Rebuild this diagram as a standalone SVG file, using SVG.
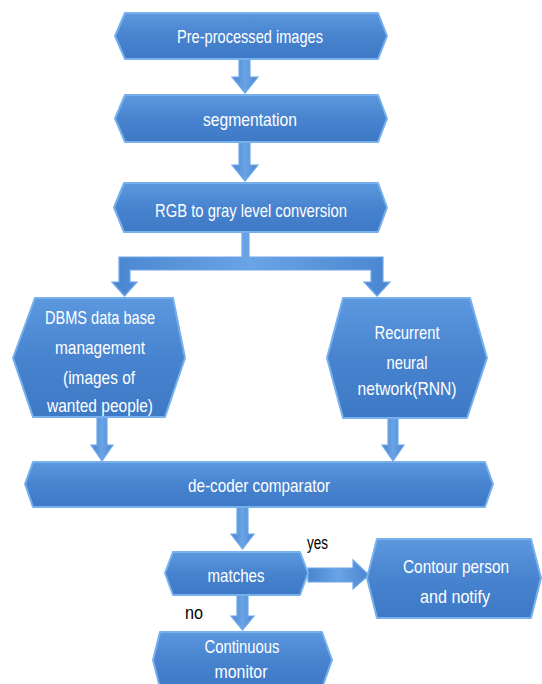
<svg xmlns="http://www.w3.org/2000/svg" width="542" height="684" viewBox="0 0 542 684">
<defs>
<linearGradient id="g" x1="0" y1="0" x2="0" y2="1">
<stop offset="0" stop-color="#5c98de"/>
<stop offset="0.5" stop-color="#4883cf"/>
<stop offset="1" stop-color="#3d79c5"/>
</linearGradient>
<linearGradient id="ga" x1="0" y1="0" x2="1" y2="0">
<stop offset="0" stop-color="#4a86d0"/>
<stop offset="0.5" stop-color="#6aa4e6"/>
<stop offset="1" stop-color="#4a86d0"/>
</linearGradient>
</defs>
<style>
.box{fill:url(#g);stroke:#78b0ee;stroke-width:2;stroke-linejoin:round}
.arr{fill:url(#ga);stroke:#6ea8ea;stroke-width:1.2;stroke-linejoin:miter}
.t{font-family:"Liberation Sans",Arial,sans-serif;font-size:19px;fill:#ffffff;text-anchor:middle}
.lbl{font-family:"Liberation Sans",Arial,sans-serif;font-size:18px;fill:#000000}
</style>
<rect width="542" height="684" fill="#ffffff"/>
<g id="connectors">
<path class="arr" d="M239,59 H250 V77 H258 L245,93 L232,77 H239 Z"/>
<path class="arr" d="M239,142 H250 V165 H258 L245,181 L232,165 H239 Z"/>
<path class="arr" d="M242,232 H249 V257 H383 V282 H390 L377,296 L364,282 H371 V270 H130 V282 H137 L124.5,296 L112,282 H119 V257 H242 Z"/>
<path class="arr" d="M97,417 H107 V445 H113 L102,461 L91,445 H97 Z"/>
<path class="arr" d="M388,418 H398 V445 H404 L393,461 L382,445 H388 Z"/>
<path class="arr" d="M237,507 H248 V534 H254 L242.5,549 L231,534 H237 Z"/>
<path class="arr" d="M308,568 H353 V560 L369,575 L353,589 V582 H308 Z"/>
<path class="arr" d="M237,595 H248 V616 H254 L242.5,630 L231,616 H237 Z"/>
</g>
<g id="n1">
<polygon class="box" points="115,36 125,13 378,13 387,36 378,59 125,59"/>
<text class="t" x="250" y="43" textLength="146" lengthAdjust="spacingAndGlyphs">Pre-processed images</text>
</g>
<g id="n2">
<polygon class="box" points="115,118.5 125,95 378,95 387,118.5 378,142 125,142"/>
<text class="t" x="250" y="126" textLength="94" lengthAdjust="spacingAndGlyphs">segmentation</text>
</g>
<g id="n3">
<polygon class="box" points="114,207.5 124,183 378,183 387,207.5 378,232 124,232"/>
<text class="t" x="251" y="217" textLength="192" lengthAdjust="spacingAndGlyphs">RGB to gray level conversion</text>
</g>
<g id="n4">
<polygon class="box" points="13,358 35,298 173,298 185,358 165,417 33,417"/>
<text class="t" x="100" y="324" textLength="110" lengthAdjust="spacingAndGlyphs">DBMS data base</text>
<text class="t" x="100" y="354" textLength="90" lengthAdjust="spacingAndGlyphs">management</text>
<text class="t" x="99" y="384" textLength="72" lengthAdjust="spacingAndGlyphs">(images of</text>
<text class="t" x="100" y="412" textLength="106" lengthAdjust="spacingAndGlyphs">wanted people)</text>
</g>
<g id="n5">
<polygon class="box" points="327,358 343,298 470,298 487,358 467,418 343,418"/>
<text class="t" x="407" y="339" textLength="65" lengthAdjust="spacingAndGlyphs">Recurrent</text>
<text class="t" x="407" y="369" textLength="41" lengthAdjust="spacingAndGlyphs">neural</text>
<text class="t" x="407" y="395" textLength="99" lengthAdjust="spacingAndGlyphs">network(RNN)</text>
</g>
<g id="n6">
<polygon class="box" points="25,484 33,462 485,462 493,484 485,507 33,507"/>
<text class="t" x="259" y="492" textLength="142" lengthAdjust="spacingAndGlyphs">de-coder comparator</text>
</g>
<g id="n7">
<polygon class="box" points="165,573 173,552 300,552 308,573 300,595 173,595"/>
<text class="t" x="236" y="582" textLength="57" lengthAdjust="spacingAndGlyphs">matches</text>
</g>
<g id="n8">
<polygon class="box" points="367,578 377,539 531,539 541,578 531,618 377,618"/>
<text class="t" x="456" y="573" textLength="106" lengthAdjust="spacingAndGlyphs">Contour person</text>
<text class="t" x="455" y="603" textLength="70" lengthAdjust="spacingAndGlyphs">and notify</text>
</g>
<g id="n9">
<polygon class="box" points="153,660 160,632 322,632 332,660 322,688 160,688"/>
<text class="t" x="242" y="653" textLength="75" lengthAdjust="spacingAndGlyphs">Continuous</text>
<text class="t" x="241" y="678" textLength="53" lengthAdjust="spacingAndGlyphs">monitor</text>
</g>
<g id="labels">
<text class="lbl" x="307" y="549" textLength="21" lengthAdjust="spacingAndGlyphs">yes</text>
<text class="lbl" x="185" y="619" textLength="18" lengthAdjust="spacingAndGlyphs">no</text>
</g>
</svg>
